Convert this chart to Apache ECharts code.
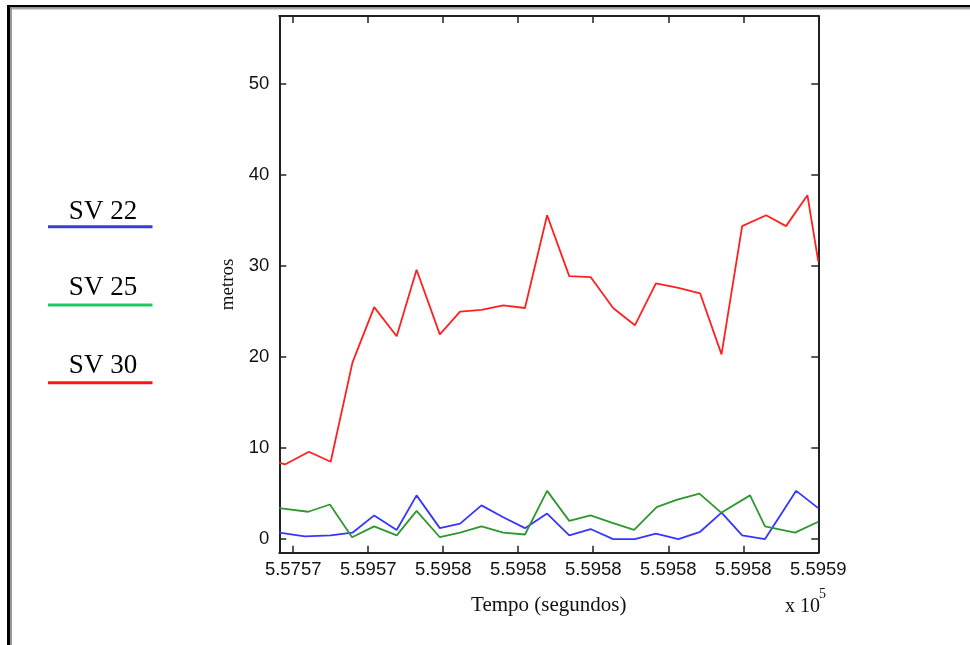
<!DOCTYPE html>
<html><head><meta charset="utf-8">
<script src="https://cdn.jsdelivr.net/npm/echarts@6/dist/echarts.min.js"></script>
<style>html,body{margin:0;padding:0;background:#fff}#c{width:970px;height:645px}</style>
</head><body><div id="c"></div>
<script>
// Axis ticks and labels
const xTickValues = [0, 2, 4, 6, 8, 10, 12, 14];
const xTickLabels = ['5.5757', '5.5957', '5.5958', '5.5958', '5.5958', '5.5958', '5.5958', '5.5959'];
const yTickValues = [0, 10, 20, 30, 40, 50];
const seriesNames = ['SV 22', 'SV 25', 'SV 30'];

// SV 22 (blue)
const tempoSV22 = [-0.37, 0.31, 1.00, 1.58, 2.16, 2.76, 3.29, 3.91, 4.45, 5.02, 5.60, 6.18, 6.77, 7.36, 7.93, 8.53, 9.11, 9.67, 10.27, 10.85, 11.42, 11.97, 12.58, 13.41, 14.00];
const metrosSV22 = [0.7, 0.3, 0.4, 0.7, 2.6, 1.0, 4.8, 1.2, 1.7, 3.7, 2.4, 1.2, 2.8, 0.4, 1.1, 0.0, 0.0, 0.6, 0.0, 0.8, 2.9, 0.4, 0.0, 5.3, 3.4];

// SV 25 (green)
const tempoSV25 = [-0.37, 0.40, 0.98, 1.57, 2.16, 2.76, 3.29, 3.91, 4.45, 5.02, 5.60, 6.18, 6.77, 7.36, 7.93, 8.49, 9.09, 9.69, 10.22, 10.83, 11.41, 12.18, 12.58, 13.38, 14.00];
const metrosSV25 = [3.4, 3.0, 3.8, 0.2, 1.4, 0.4, 3.1, 0.2, 0.7, 1.4, 0.7, 0.5, 5.3, 2.0, 2.6, 1.8, 1.0, 3.5, 4.3, 5.0, 2.9, 4.8, 1.4, 0.7, 1.9];

// SV 30 (red)
const tempoSV30 = [-0.37, -0.22, 0.42, 1.00, 1.58, 2.16, 2.76, 3.29, 3.91, 4.45, 5.02, 5.60, 6.18, 6.77, 7.36, 7.93, 8.53, 9.11, 9.67, 10.27, 10.85, 11.42, 11.97, 12.61, 13.14, 13.71, 14.00];
const metrosSV30 = [8.4, 8.2, 9.6, 8.5, 19.4, 25.5, 22.3, 29.6, 22.5, 25.0, 25.2, 25.7, 25.4, 35.6, 28.9, 28.8, 25.4, 23.5, 28.1, 27.6, 27.0, 20.3, 34.4, 35.6, 34.4, 37.8, 30.5];

const pair = (t, v) => t.map((x, i) => [x, v[i]]);

const chart = echarts.init(document.getElementById('c'), null, {renderer: 'canvas'});
const tickStyle = {show: true, inside: true, length: 7, lineStyle: {color: '#222', width: 1.5}};
const axisLine = {show: true, onZero: false, lineStyle: {color: '#222', width: 2}};
const labelFont = {fontFamily: 'Liberation Sans', fontSize: 18.5, color: '#111'};

const xBase = {type: 'value', min: -0.37, max: 14, splitLine: {show: false}, axisLine: axisLine};
const yBase = {type: 'value', min: -1.5, max: 57.5, splitLine: {show: false}, axisLine: axisLine};

chart.setOption({
  backgroundColor: '#ffffff',
  animation: false,
  grid: {left: 279.3, right: 151.7, top: 16, bottom: 92.3, containLabel: false, outerBoundsMode: 'none'},
  xAxis: [
    Object.assign({}, xBase, {
      position: 'bottom',
      name: 'Tempo (segundos)', nameLocation: 'middle', nameGap: 42,
      nameTextStyle: {fontFamily: 'Liberation Serif', fontSize: 21, color: '#111'},
      axisTick: Object.assign({customValues: xTickValues}, tickStyle),
      axisLabel: Object.assign({
        customValues: xTickValues, margin: 8,
        formatter: v => xTickLabels[xTickValues.indexOf(Math.round(v))] || ''
      }, labelFont)
    }),
    Object.assign({}, xBase, {
      position: 'top',
      axisTick: Object.assign({customValues: xTickValues}, tickStyle),
      axisLabel: {show: false}
    })
  ],
  yAxis: [
    Object.assign({}, yBase, {
      position: 'left',
      name: 'metros', nameLocation: 'middle', nameGap: 34, nameRotate: 90,
      nameTextStyle: {fontFamily: 'Liberation Serif', fontSize: 19, color: '#111'},
      axisTick: Object.assign({customValues: yTickValues}, tickStyle),
      axisLabel: Object.assign({customValues: yTickValues, margin: 10}, labelFont)
    }),
    Object.assign({}, yBase, {
      position: 'right',
      axisTick: Object.assign({customValues: yTickValues}, tickStyle),
      axisLabel: {show: false}
    })
  ],
  series: [
    {name: seriesNames[0], type: 'line', data: pair(tempoSV22, metrosSV22), symbol: 'none', clip: true,
     lineStyle: {color: '#3636ff', width: 1.8}},
    {name: seriesNames[1], type: 'line', data: pair(tempoSV25, metrosSV25), symbol: 'none', clip: true,
     lineStyle: {color: '#2e982e', width: 1.8}},
    {name: seriesNames[2], type: 'line', data: pair(tempoSV30, metrosSV30), symbol: 'none', clip: true,
     lineStyle: {color: '#ff2020', width: 1.8}}
  ],
  graphic: [
    // page border (top & left)
    {type: 'rect', shape: {x: 7, y: 5, width: 963, height: 2.5}, style: {fill: '#000'}, silent: true},
    {type: 'rect', shape: {x: 10, y: 7.5, width: 960, height: 2}, style: {fill: '#aaa'}, silent: true},
    {type: 'rect', shape: {x: 7, y: 5, width: 3, height: 640}, style: {fill: '#000'}, silent: true},
    {type: 'rect', shape: {x: 10, y: 7.5, width: 2, height: 638}, style: {fill: '#999'}, silent: true},
    // exponent
    {type: 'text', x: 785, y: 607, style: {text: 'x 10', fontFamily: 'Liberation Serif', fontSize: 20, fill: '#111', align: 'left', verticalAlign: 'middle'}},
    {type: 'text', x: 819, y: 594, style: {text: '5', fontFamily: 'Liberation Serif', fontSize: 14, fill: '#111', align: 'left', verticalAlign: 'middle'}},
    // legend
    {type: 'text', x: 103, y: 212, style: {text: seriesNames[0], fontFamily: 'Liberation Serif', fontSize: 27, fill: '#000', align: 'center', verticalAlign: 'middle'}},
    {type: 'line', shape: {x1: 48, y1: 226.7, x2: 152.5, y2: 226.7}, style: {stroke: '#3b3bd0', lineWidth: 3}},
    {type: 'text', x: 103, y: 288, style: {text: seriesNames[1], fontFamily: 'Liberation Serif', fontSize: 27, fill: '#000', align: 'center', verticalAlign: 'middle'}},
    {type: 'line', shape: {x1: 48, y1: 305, x2: 152.5, y2: 305}, style: {stroke: '#1ec864', lineWidth: 3}},
    {type: 'text', x: 103, y: 365.5, style: {text: seriesNames[2], fontFamily: 'Liberation Serif', fontSize: 27, fill: '#000', align: 'center', verticalAlign: 'middle'}},
    {type: 'line', shape: {x1: 48, y1: 382.7, x2: 152.5, y2: 382.7}, style: {stroke: '#ff1414', lineWidth: 3}}
  ]
});
</script></body></html>
